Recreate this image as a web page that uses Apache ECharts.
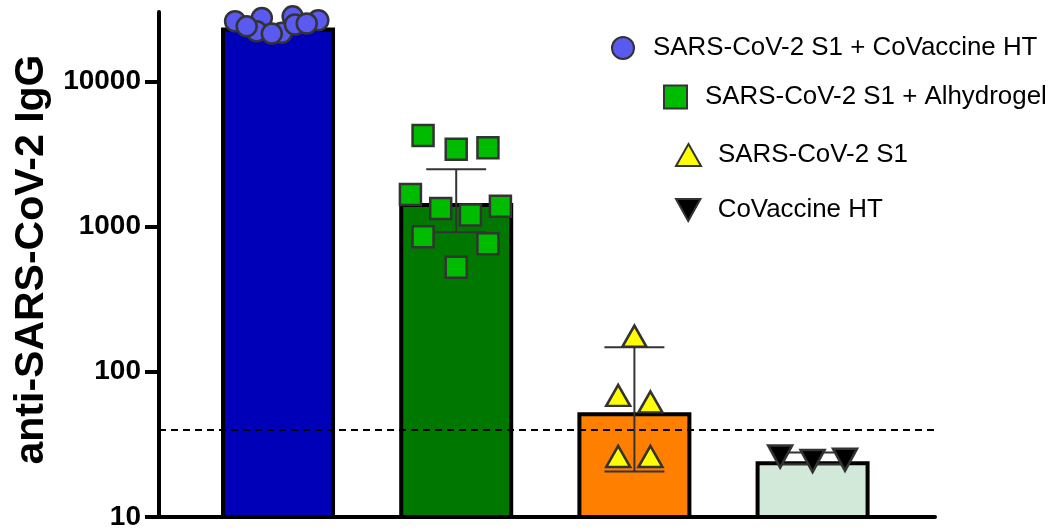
<!DOCTYPE html>
<html><head><meta charset="utf-8">
<script src="https://cdn.jsdelivr.net/npm/echarts@6/dist/echarts.min.js"></script>
<style>html,body{margin:0;padding:0;background:#fff;overflow:hidden}#c{width:1048px;height:531px}</style>
</head><body><div id="c"></div>
<script>
const groups = ['SARS-CoV-2 S1 + CoVaccine HT','SARS-CoV-2 S1 + Alhydrogel','SARS-CoV-2 S1','CoVaccine HT'];
const barMeans = [23500, 1455, 52.6, 24.2];
const errLow = [null, 912, 20.6, 23.1];
const errHigh = [null, 2480, 147.5, 27.8];
const cutoff = 40;
const yTicks = [10, 100, 1000, 10000];
const blueVals = [25900, 27300, 28000, 26300, 22100, 21600, 23900, 24600, 25000, 21300];
const blueJitter = [-0.241, -0.091, 0.082, 0.226, -0.120, 0.021, -0.176, 0.095, 0.161, -0.035];
const greenVals = [4240, 3400, 3480, 1660, 1330, 1200, 1380, 850, 760, 525];
const greenJitter = [-0.186, 0, 0.178, -0.257, -0.087, 0.080, 0.248, -0.186, 0.178, 0];
const yellowVals = [176, 68.7, 62, 26.1, 26.1];
const yellowJitter = [0, -0.091, 0.09, -0.091, 0.09];
const blackVals = [26.1, 24.3, 24.8];
const blackJitter = [-0.182, 0, 0.182];

const FONT = '"Liberation Sans", Arial, sans-serif';
const barColors = ['#0000B8', '#007800', '#FF8000', '#D2E8D8'];
const ptBorder = '#333333';

function pts(vals, jit, gi) { return vals.map((v, k) => [gi + jit[k], v]); }

const chart = echarts.init(document.getElementById('c'), null, {renderer: 'canvas'});
const legendText = {fontSize: 25.9, color: '#000', fontFamily: FONT, lineHeight: 22};
const legendBase = {orient: 'horizontal', padding: 0, itemGap: 0, selectedMode: false};
chart.setOption({
  animation: false,
  backgroundColor: '#fff',
  grid: {left: 159, right: 113, top: 12, bottom: 9, containLabel: false},
  xAxis: {
    type: 'value', min: -0.668, max: 3.687,
    axisLine: {show: true, onZero: false, lineStyle: {color: '#000', width: 4}},
    axisTick: {show: false}, axisLabel: {show: false}, splitLine: {show: false}
  },
  yAxis: {
    type: 'log', logBase: 10, min: 10, max: 30000,
    axisLine: {show: true, onZero: false, lineStyle: {color: '#000', width: 4}},
    axisTick: {show: true, length: 14, customValues: yTicks, lineStyle: {color: '#000', width: 4}},
    axisLabel: {customValues: yTicks, formatter: v => String(Math.round(v)), fontSize: 28, fontWeight: 'bold', color: '#000', fontFamily: FONT, margin: 18},
    splitLine: {show: false}, minorTick: {show: false},
    name: 'anti-SARS-CoV-2 IgG', nameLocation: 'middle', nameGap: 86,
    nameTextStyle: {fontSize: 41, fontWeight: 'bold', color: '#000', fontFamily: FONT, padding: [0, 0, 0, 10]}
  },
  legend: [
    Object.assign({}, legendBase, {data: [{name: groups[0], icon: 'circle'}], left: 611, top: 35, itemWidth: 22, itemHeight: 22, textStyle: Object.assign({}, legendText, {padding: [0, 0, 0, 14]})}),
    Object.assign({}, legendBase, {data: [{name: groups[1], icon: 'rect'}], left: 663, top: 84, itemWidth: 23, itemHeight: 23, textStyle: Object.assign({}, legendText, {padding: [0, 0, 0, 13]})}),
    Object.assign({}, legendBase, {data: [{name: groups[2], icon: 'triangle'}], left: 675, top: 142, itemWidth: 25, itemHeight: 22, textStyle: Object.assign({}, legendText, {padding: [0, 0, 0, 12]})}),
    Object.assign({}, legendBase, {data: [{name: groups[3], icon: 'path://M0,0L10,0L5,9Z'}], left: 675, top: 197, itemWidth: 25, itemHeight: 22, textStyle: Object.assign({}, legendText, {padding: [0, 0, 0, 12]})})
  ],
  series: [
    {
      type: 'line', name: 'cutoff', data: [], z: 1, silent: true,
      markLine: {silent: true, symbol: 'none', label: {show: false},
        lineStyle: {type: [7, 5], color: '#000', width: 2}, data: [{yAxis: cutoff}]}
    },
    {
      type: 'bar', name: 'bars', z: 2, barWidth: 114, silent: true,
      data: barMeans.map((v, i) => ({value: [i, v], itemStyle: {color: barColors[i], borderColor: '#000', borderWidth: 4}}))
    },
    {
      type: 'custom', name: 'err', z: 3, silent: true,
      data: barMeans.map((v, i) => [i, errLow[i], errHigh[i]]).filter(d => d[1] != null),
      renderItem: function (params, api) {
        const x = api.value(0);
        const lo = api.coord([x, api.value(1)]);
        const hi = api.coord([x, api.value(2)]);
        const hw = 30;
        const st = {stroke: '#333', lineWidth: 2};
        return {type: 'group', children: [
          {type: 'line', shape: {x1: lo[0], y1: lo[1], x2: hi[0], y2: hi[1]}, style: st},
          {type: 'line', shape: {x1: lo[0] - hw, y1: lo[1], x2: lo[0] + hw, y2: lo[1]}, style: st},
          {type: 'line', shape: {x1: hi[0] - hw, y1: hi[1], x2: hi[0] + hw, y2: hi[1]}, style: st}
        ]};
      }
    },
    {
      type: 'scatter', name: groups[0], z: 4, symbol: 'circle', symbolSize: 20,
      itemStyle: {color: '#5A5AF0', borderColor: ptBorder, borderWidth: 2.5, opacity: 1},
      data: pts(blueVals, blueJitter, 0)
    },
    {
      type: 'scatter', name: groups[1], z: 4, symbol: 'rect', symbolSize: 21,
      itemStyle: {color: '#00BC00', borderColor: ptBorder, borderWidth: 2.5, opacity: 1},
      data: pts(greenVals, greenJitter, 1)
    },
    {
      type: 'scatter', name: groups[2], z: 4, symbol: 'triangle', symbolSize: [24, 21],
      itemStyle: {color: '#FFFF00', borderColor: ptBorder, borderWidth: 2.5, opacity: 1},
      data: pts(yellowVals, yellowJitter, 2)
    },
    {
      type: 'scatter', name: groups[3], z: 4, symbol: 'path://M0,0L10,0L5,9Z', symbolSize: [24, 22],
      itemStyle: {color: '#000', borderColor: ptBorder, borderWidth: 2.5, opacity: 1},
      data: pts(blackVals, blackJitter, 3)
    }
  ]
});
</script>
</body></html>
